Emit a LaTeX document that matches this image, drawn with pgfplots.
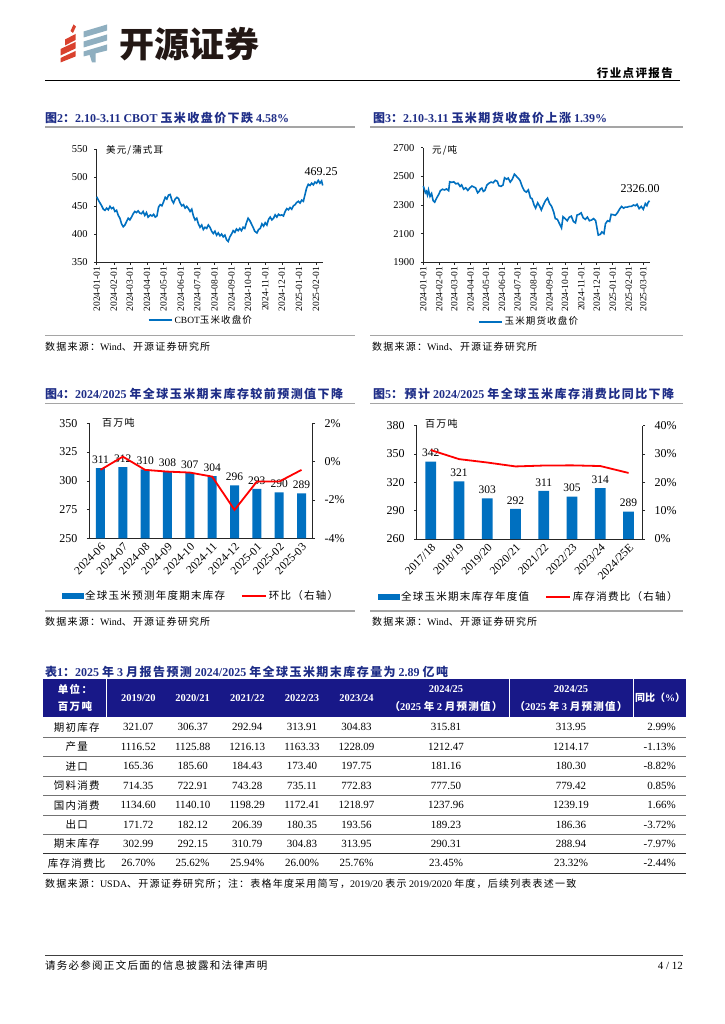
\documentclass[border=0pt]{standalone}
\usepackage{fontspec}
\setmainfont{Liberation Serif}
\newfontfamily\cjk[LetterSpace=12]{Noto Sans CJK SC}
\newfontfamily\cjktight{Noto Sans CJK SC}
\usepackage{pgfplots}
\pgfplotsset{compat=1.18}
\pgfplotsset{/pgf/number format/assume math mode=true,/pgf/number format/1000 sep={}}
\definecolor{titleblue}{RGB}{30,45,135}
\definecolor{navy}{RGB}{24,24,136}
\definecolor{lineblue}{RGB}{0,112,192}
\definecolor{barblue}{RGB}{0,112,192}
\definecolor{rulegrey}{RGB}{165,165,165}
\definecolor{logored}{RGB}{217,65,46}
\definecolor{logogrey}{RGB}{143,175,192}
\newcommand\zh[1]{{\cjk #1}}
\newcommand\fs[1]{\fontsize{#1}{#1}\selectfont}

\begin{document}
\begin{tikzpicture}
\begin{scope}[x=1pt,y=-1pt,every node/.style={inner sep=0pt}]
\fill[white] (0,0) rectangle (724,1024);
\useasboundingbox (0,0) rectangle (724,1024);

% logo
\fill[logored] (70.5,31) -- (73.5,24.5) -- (76,26.5) -- (73,33) -- cycle;
\fill[logored] (65,39.5) -- (75.5,34) -- (75.5,40) -- (65,45.5) -- cycle;
\fill[logored] (60.5,49) -- (75.5,42) -- (75.5,48.5) -- (60.5,55.5) -- cycle;
\fill[logored] (60.5,58) -- (75.5,51) -- (75.5,56.5) -- (60.5,62.5) -- cycle;
\fill[logogrey] (83.5,31.5) -- (107,24.5) -- (107,30.5) -- (83.5,37.5) -- cycle;
\fill[logogrey] (83.5,41.5) -- (107,34.5) -- (107,40.5) -- (83.5,47.5) -- cycle;
\fill[logogrey] (83.5,51.5) -- (107,44.5) -- (107,50.5) -- (83.5,56.5) -- cycle;
\fill[logogrey] (89.5,54.5) -- (95.5,52.5) -- (95.5,62.5) -- (92,62.5) -- cycle;
\node[anchor=west,text={rgb,255:red,35;green,24;blue,21}] at (119,44) {\cjktight\bfseries\fs{35}开源证券};

% header
\node[anchor=east,font=\bfseries\fs{11.5}] at (673,73) {\zh{行业点评报告}};
\draw[black,line width=1pt] (45,80.5) -- (680,80.5);

% chart titles and rules
\node[anchor=west,text=titleblue,font=\bfseries\fs{12}] at (45,118) {\zh{图}2\zh{：}2.10-3.11 CBOT \zh{玉米收盘价下跌} 4.58\%};
\node[anchor=west,text=titleblue,font=\bfseries\fs{12}] at (373,118) {\zh{图}3\zh{：}2.10-3.11 \zh{玉米期货收盘价上涨} 1.39\%};
\draw[rulegrey,line width=1.5pt] (45,127) -- (355,127);
\draw[rulegrey,line width=1.5pt] (370,127) -- (683,127);
\draw[rulegrey,line width=1.5pt] (45,335.5) -- (355,335.5);
\draw[rulegrey,line width=1.5pt] (370,335.5) -- (683,335.5);
\node[anchor=west,font=\fs{10}] at (45,347) {\zh{数据来源：}Wind\zh{、开源证券研究所}};
\node[anchor=west,font=\fs{10}] at (372,347) {\zh{数据来源：}Wind\zh{、开源证券研究所}};
\node[anchor=west,font=\fs{9.5}] at (106,150) {\zh{美元/蒲式耳}};
\node[anchor=west,font=\fs{9.5}] at (432,150) {\zh{元/吨}};

\node[anchor=west,text=titleblue,font=\bfseries\fs{12}] at (45,394) {\zh{图}4\zh{：}2024/2025 \zh{年全球玉米期末库存较前预测值下降}};
\node[anchor=west,text=titleblue,font=\bfseries\fs{12}] at (373,394) {\zh{图}5\zh{：预计} 2024/2025 \zh{年全球玉米库存消费比同比下降}};
\draw[rulegrey,line width=1.5pt] (45,403.5) -- (355,403.5);
\draw[rulegrey,line width=1.5pt] (370,403.5) -- (683,403.5);
\draw[rulegrey,line width=1.5pt] (45,611) -- (355,611);
\draw[rulegrey,line width=1.5pt] (370,611) -- (683,611);
\node[anchor=west,font=\fs{10}] at (45,622) {\zh{数据来源：}Wind\zh{、开源证券研究所}};
\node[anchor=west,font=\fs{10}] at (372,622) {\zh{数据来源：}Wind\zh{、开源证券研究所}};
\node[anchor=west,font=\fs{10}] at (102,423) {\zh{百万吨}};
\node[anchor=west,font=\fs{10}] at (425,424) {\zh{百万吨}};

% table
\node[anchor=west,text=titleblue,font=\bfseries\fs{12}] at (45,672) {\zh{表}1\zh{：}2025 \zh{年} 3 \zh{月报告预测} 2024/2025 \zh{年全球玉米期末库存量为} 2.89 \zh{亿吨}};
\fill[navy] (43.3,679) rectangle (686,717);
\foreach \xx in {106.7,509.3,633.3} \draw[white,line width=0.8pt] (\xx,679) -- (\xx,717);
\begin{scope}[every node/.append style={text=white,font=\bfseries\fs{10.5}}]
\node at (75,689) {\zh{单位：}};
\node at (75,707) {\zh{百万吨}};
\node at (138.3,698) {2019/20};
\node at (192.7,698) {2020/21};
\node at (247.3,698) {2021/22};
\node at (302,698) {2022/23};
\node at (356.5,698) {2023/24};
\node at (446,689) {2024/25};
\node at (446,707) {\zh{（}2025 \zh{年} 2 \zh{月预测值）}};
\node at (571,689) {2024/25};
\node at (571,707) {\zh{（}2025 \zh{年} 3 \zh{月预测值）}};
\node[font=\bfseries\fs{10}] at (660,698) {\cjktight 同比（\textrm{\%}）};
\end{scope}
\foreach \yy in {737.3,756.7,776,795.7,815,834} \draw[black!55,line width=0.8pt] (43.3,\yy) -- (686,\yy);
\draw[black!80,line width=1pt] (43.3,853.3) -- (686,853.3);
\draw[black!80,line width=1pt] (43.3,873.3) -- (686,873.3);
\foreach \yy/\lab/\va/\vb/\vc/\vd/\ve/\vf/\vg/\vh in {
 727.2/期初库存/321.07/306.37/292.94/313.91/304.83/315.81/313.95/2.99\%,
 747/产量/1116.52/1125.88/1216.13/1163.33/1228.09/1212.47/1214.17/-1.13\%,
 766.4/进口/165.36/185.60/184.43/173.40/197.75/181.16/180.30/-8.82\%,
 785.9/饲料消费/714.35/722.91/743.28/735.11/772.83/777.50/779.42/0.85\%,
 805.4/国内消费/1134.60/1140.10/1198.29/1172.41/1218.97/1237.96/1239.19/1.66\%,
 824.5/出口/171.72/182.12/206.39/180.35/193.56/189.23/186.36/-3.72\%,
 843.7/期末库存/302.99/292.15/310.79/304.83/313.95/290.31/288.94/-7.97\%,
 863.3/库存消费比/26.70\%/25.62\%/25.94\%/26.00\%/25.76\%/23.45\%/23.32\%/-2.44\%}{
 \node[font=\fs{10.5}] at (76.7,\yy) {\zh{\lab}};
 \node[font=\fs{11}] at (138.3,\yy) {\va};
 \node[font=\fs{11}] at (192.7,\yy) {\vb};
 \node[font=\fs{11}] at (247.3,\yy) {\vc};
 \node[font=\fs{11}] at (302,\yy) {\vd};
 \node[font=\fs{11}] at (356.5,\yy) {\ve};
 \node[font=\fs{11}] at (446,\yy) {\vf};
 \node[font=\fs{11}] at (571,\yy) {\vg};
 \node[font=\fs{11},anchor=east] at (676,\yy) {\vh};
}
\node[anchor=west,font=\fs{10}] at (45,884) {\zh{数据来源：}USDA\zh{、开源证券研究所；注：表格年度采用简写，}2019/20 \zh{表示} 2019/2020 \zh{年度，后续列表表述一致}};

% footer
\draw[black!75,line width=1.5pt] (45,955.7) -- (683,955.7);
\node[anchor=west,font=\fs{10.5}] at (45,965.5) {\zh{请务必参阅正文后面的信息披露和法律声明}};
\node[anchor=east,font=\fs{11}] at (683,965.5) {4 / 12};
\end{scope}

% ---- chart 2: CBOT corn
\begin{axis}[at={(96.7pt,-262.3pt)},anchor=south west,scale only axis,
  width=226pt,height=113pt,xmin=0,xmax=409,ymin=350,ymax=550,clip=false,
  axis lines*=left,axis line style={black!85,line width=0.6pt},
  tick align=outside,major tick length=2.5pt,tick style={black!85,line width=0.5pt},
  ytick={350,400,450,500,550},
  xtick={0,31,60,91,121,152,182,213,244,274,305,335,366,397},
  xticklabels={2024-01-01,2024-02-01,2024-03-01,2024-04-01,2024-05-01,2024-06-01,2024-07-01,2024-08-01,2024-09-01,2024-10-01,2024-11-01,2024-12-01,2025-01-01,2025-02-01},
  x tick label style={rotate=90,anchor=east,font=\fs{9.5},inner sep=2pt},
  y tick label style={font=\fs{10.5},xshift=-3pt},
  legend style={at={(0.461,-0.511)},anchor=center,draw=none,fill=none,font=\fs{9.5},inner sep=0pt},
  legend image code/.code={\draw[lineblue,line width=1.8pt] (0pt,0pt) -- (23pt,0pt);}]
\addplot[color=lineblue,line width=1.6pt] coordinates {
(0,466)(3,460)(6,455)(9,450)(12,444)(15,442)(18,446)(21,443)(24,449)(27,445)(30,447)(33,440)(36,442)(39,433)(42,428)(45,418)(48,413)(51,416)(54,422)(57,428)(60,425)(63,430)(66,436)(69,440)(72,438)(75,441)(78,437)(81,436)(84,440)(87,433)(90,438)(93,430)(97,434)(100,432)(103,435)(106,430)(109,432)(112,448)(115,452)(118,450)(121,457)(124,465)(127,462)(130,469)(133,470)(136,460)(139,455)(142,462)(145,465)(148,463)(151,455)(154,450)(157,452)(160,446)(163,449)(166,445)(169,440)(172,444)(175,432)(178,425)(181,428)(184,418)(187,412)(190,416)(193,408)(196,412)(199,410)(202,416)(205,412)(208,405)(211,401)(214,405)(217,398)(220,402)(223,397)(226,400)(229,395)(232,398)(235,390)(238,387)(241,395)(244,400)(247,406)(250,403)(253,409)(256,406)(259,410)(262,406)(265,412)(268,410)(271,420)(274,428)(277,424)(280,418)(283,412)(286,405)(290,402)(293,408)(296,410)(299,418)(302,414)(305,420)(308,416)(311,426)(314,430)(317,425)(320,428)(323,434)(326,430)(329,435)(332,433)(335,434)(338,432)(341,440)(344,445)(347,443)(350,447)(353,444)(356,450)(359,452)(362,456)(365,458)(368,455)(371,460)(374,458)(377,470)(380,482)(383,488)(386,486)(389,490)(392,487)(395,492)(398,490)(401,495)(404,490)(407,494)(409,486)};
\legend{CBOT\zh{玉米收盘价}}
\node[font=\fs{12}] at (axis cs:406,510) {469.25};
\end{axis}

% ---- chart 3: corn futures
\begin{axis}[at={(423.3pt,-262.3pt)},anchor=south west,scale only axis,
  width=226.7pt,height=114.6pt,xmin=0,xmax=438,ymin=1900,ymax=2700,clip=false,
  axis lines*=left,axis line style={black!85,line width=0.6pt},
  tick align=outside,major tick length=2.5pt,tick style={black!85,line width=0.5pt},
  ytick={1900,2100,2300,2500,2700},
  xtick={0,31,60,91,121,152,182,213,244,274,305,335,366,397,425},
  xticklabels={2024-01-01,2024-02-01,2024-03-01,2024-04-01,2024-05-01,2024-06-01,2024-07-01,2024-08-01,2024-09-01,2024-10-01,2024-11-01,2024-12-01,2025-01-01,2025-02-01,2025-03-01},
  x tick label style={rotate=90,anchor=east,font=\fs{9.5},inner sep=2pt},
  y tick label style={font=\fs{10.5},xshift=-3pt},
  legend style={at={(0.466,-0.518)},anchor=center,draw=none,fill=none,font=\fs{9.5},inner sep=0pt},
  legend image code/.code={\draw[lineblue,line width=1.8pt] (0pt,0pt) -- (23pt,0pt);}]
\addplot[color=lineblue,line width=1.6pt] coordinates {
(0,2432)(2,2410)(4,2385)(6,2395)(8,2370)(10,2405)(13,2360)(16,2380)(19,2330)(22,2320)(26,2350)(30,2375)(33,2400)(37,2410)(41,2405)(45,2412)(49,2400)(51,2462)(55,2458)(59,2462)(63,2448)(67,2452)(71,2430)(74,2440)(78,2410)(82,2420)(86,2402)(90,2420)(94,2432)(98,2425)(101,2420)(105,2385)(108,2395)(110,2410)(113,2418)(116,2395)(119,2402)(123,2440)(127,2452)(131,2460)(135,2455)(139,2472)(143,2465)(146,2435)(150,2430)(154,2440)(157,2490)(161,2480)(164,2488)(168,2460)(172,2480)(176,2515)(180,2500)(184,2485)(187,2470)(191,2430)(195,2400)(199,2390)(203,2405)(207,2350)(210,2345)(214,2300)(217,2278)(221,2315)(225,2290)(228,2265)(232,2300)(236,2330)(240,2348)(244,2310)(248,2290)(252,2250)(255,2205)(259,2200)(263,2170)(267,2140)(270,2218)(274,2205)(278,2190)(282,2215)(286,2222)(290,2185)(294,2175)(297,2230)(301,2235)(305,2245)(309,2210)(313,2200)(317,2215)(321,2190)(325,2195)(329,2205)(333,2190)(335,2150)(338,2090)(342,2095)(345,2112)(349,2100)(352,2170)(356,2190)(360,2185)(363,2235)(367,2232)(371,2228)(375,2245)(379,2270)(383,2290)(387,2278)(390,2285)(394,2285)(398,2290)(402,2290)(406,2300)(410,2295)(413,2305)(417,2275)(421,2290)(425,2270)(429,2310)(432,2295)(434,2315)(437,2330)};
\legend{\zh{玉米期货收盘价}}
\node[font=\fs{12}] at (axis cs:418.7,2412) {2326.00};
\end{axis}

% ---- chart 4: ending stocks forecasts (bars)
\begin{axis}[at={(89.3pt,-538.3pt)},anchor=south west,scale only axis,
  width=223.4pt,height=115pt,xmin=-0.5,xmax=9.5,ymin=250,ymax=350,
  ybar,bar width=9pt,
  axis x line*=bottom,axis y line*=left,axis line style={black!85,line width=0.6pt},
  tick align=outside,major tick length=2.5pt,tick style={black!85,line width=0.5pt},
  x tick style={draw=none},
  ytick={250,275,300,325,350},
  xtick={0,...,9},
  xticklabels={2024-06,2024-07,2024-08,2024-09,2024-10,2024-11,2024-12,2025-01,2025-02,2025-03},
  x tick label style={rotate=45,anchor=north east,font=\fs{11.5},inner sep=1pt},
  y tick label style={font=\fs{12},xshift=-6pt},
  nodes near coords,
  every node near coord/.append style={font=\fs{11.5},yshift=1pt}]
\addplot[fill=barblue,draw=none] coordinates {(0,311)(1,312)(2,310)(3,308)(4,307)(5,304)(6,296)(7,293)(8,290)(9,289)};
\end{axis}
\begin{axis}[at={(89.3pt,-538.3pt)},anchor=south west,scale only axis,
  width=223.4pt,height=115pt,xmin=-0.5,xmax=9.5,ymin=-4,ymax=2,
  axis x line=none,xtick=\empty,axis y line*=right,axis line style={black!85,line width=0.6pt},
  tick align=outside,major tick length=2.5pt,tick style={black!85,line width=0.5pt},
  ytick={-4,-2,0,2},yticklabels={-4\%,-2\%,0\%,2\%},
  y tick label style={font=\fs{12},xshift=6pt},
  legend columns=2,
  legend style={at={(0.5,-0.502)},anchor=center,draw=none,fill=none,font=\fs{10.5},inner sep=0pt,
    /tikz/every even column/.append style={column sep=14pt}}]
\addlegendimage{legend image code/.code={\fill[barblue] (0pt,-2.5pt) rectangle (21pt,2.5pt);}}
\addplot[color=red,line width=1.8pt,legend image code/.code={\draw[red,line width=1.8pt] (0pt,0pt) -- (24pt,0pt);}]
 coordinates {(0,-0.43)(1,0.26)(2,-0.43)(3,-0.52)(4,-0.57)(5,-0.78)(6,-2.52)(7,-1.04)(8,-1.04)(9,-0.43)};
\legend{\zh{全球玉米预测年度期末库存},\zh{环比（右轴）}}
\end{axis}

% ---- chart 5: annual ending stocks and stocks-to-use
\begin{axis}[at={(416.7pt,-539pt)},anchor=south west,scale only axis,
  width=226pt,height=113.3pt,xmin=-0.5,xmax=7.5,ymin=260,ymax=380,
  ybar,bar width=10.7pt,
  axis x line*=bottom,axis y line*=left,axis line style={black!85,line width=0.6pt},
  tick align=outside,major tick length=2.5pt,tick style={black!85,line width=0.5pt},
  x tick style={draw=none},
  ytick={260,290,320,350,380},
  xtick={0,...,7},
  xticklabels={2017/18,2018/19,2019/20,2020/21,2021/22,2022/23,2023/24,2024/25E},
  x tick label style={rotate=45,anchor=north east,font=\fs{11.5},inner sep=1pt},
  y tick label style={font=\fs{12},xshift=-6pt},
  nodes near coords,
  every node near coord/.append style={font=\fs{11.5},yshift=1pt}]
\addplot[fill=barblue,draw=none] coordinates {(0,342)(1,321)(2,303)(3,292)(4,311)(5,305)(6,314)(7,289)};
\end{axis}
\begin{axis}[at={(416.7pt,-539pt)},anchor=south west,scale only axis,
  width=226pt,height=113.3pt,xmin=-0.5,xmax=7.5,ymin=0,ymax=40,
  axis x line=none,xtick=\empty,axis y line*=right,axis line style={black!85,line width=0.6pt},
  tick align=outside,major tick length=2.5pt,tick style={black!85,line width=0.5pt},
  ytick={0,10,20,30,40},yticklabels={0\%,10\%,20\%,30\%,40\%},
  y tick label style={font=\fs{12},xshift=6pt},
  legend columns=2,
  legend style={at={(0.495,-0.512)},anchor=center,draw=none,fill=none,font=\fs{10.5},inner sep=0pt,
    /tikz/every even column/.append style={column sep=14pt}}]
\addlegendimage{legend image code/.code={\fill[barblue] (0pt,-2.5pt) rectangle (21pt,2.5pt);}}
\addplot[color=red,line width=1.8pt,legend image code/.code={\draw[red,line width=1.8pt] (0pt,0pt) -- (24pt,0pt);}]
 coordinates {(0,31.4)(1,28.2)(2,27.0)(3,25.62)(4,25.94)(5,26.0)(6,25.76)(7,23.32)};
\legend{\zh{全球玉米期末库存年度值},\zh{库存消费比（右轴）}}
\end{axis}
\end{tikzpicture}
\end{document}
